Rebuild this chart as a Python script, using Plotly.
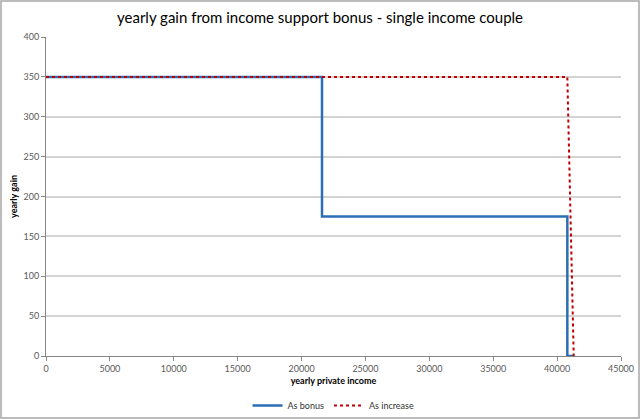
import plotly.graph_objects as go

# data
bonus_x = [0, 21600, 21600, 40800, 40800, 41300]
bonus_y = [350, 350, 175, 175, 0, 0]
increase_x = [0, 40800, 41300]
increase_y = [350, 350, 0]

fig = go.Figure()
fig.add_trace(go.Scatter(
    x=bonus_x, y=bonus_y, mode="lines", name="As bonus",
    line=dict(color="#2a6fb5", width=2.5),
))
fig.add_trace(go.Scatter(
    x=increase_x, y=increase_y, mode="lines", name="As increase",
    line=dict(color="#c00000", width=2, dash="dot"),
))

axis_font = dict(family="Lato, Liberation Sans, sans-serif", size=9, color="#595959")
fig.update_layout(
    width=640, height=419,
    margin=dict(l=46, r=19, t=37, b=63, autoexpand=False),
    paper_bgcolor="white", plot_bgcolor="white",
    font=dict(family="Lato, Liberation Sans, sans-serif", color="#000000"),
    title=dict(
        text="yearly gain from income support bonus - single income couple",
        x=0.5, xanchor="center", y=0.958, yanchor="middle",
        font=dict(size=15, color="#000000"),
    ),
    showlegend=True,
    legend=dict(
        orientation="h", x=0.5, xanchor="center", y=-0.155, yanchor="middle",
        font=dict(size=9, color="#333333"), bgcolor="rgba(0,0,0,0)",
    ),
    xaxis=dict(
        range=[0, 45000], dtick=5000, tickformat="d", tickfont=axis_font,
        showgrid=False, zeroline=False, automargin=False,
        showline=True, linecolor="#868686", linewidth=1,
        ticks="outside", ticklen=4, tickcolor="#868686",
        title=dict(text="<b>yearly private income</b>", font=dict(size=9, color="#000000"), standoff=4),
    ),
    yaxis=dict(
        range=[0, 400], dtick=50, tickfont=axis_font,
        showgrid=True, gridcolor="#d4d4d4", gridwidth=1.5, zeroline=False, automargin=False,
        showline=True, linecolor="#868686", linewidth=1,
        ticks="outside", ticklen=4, tickcolor="#868686",
        title=dict(text="<b>yearly gain</b>", font=dict(size=9, color="#000000"), standoff=4),
    ),
    shapes=[dict(
        type="rect", xref="paper", yref="paper",
        x0=-45 / 575, x1=1 + 18 / 575, y0=-62 / 319, y1=1 + 36 / 319,
        line=dict(color="#a6a6a6", width=1.5),
    )],
)

# the page body has an 8px default margin; drop it so the figure fills the window
fig.write_html(
    "out.html",
    config={"displayModeBar": False},
    post_script="document.body.style.margin = '0';",
)
